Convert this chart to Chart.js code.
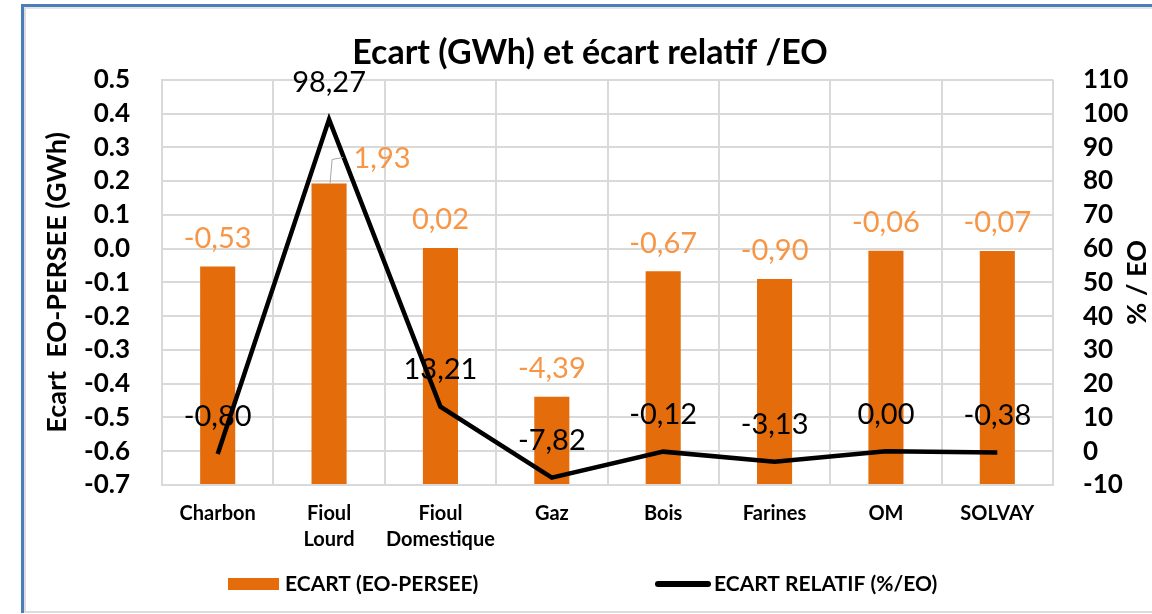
<!DOCTYPE html>
<html>
<head>
<meta charset="utf-8">
<script src="https://cdn.jsdelivr.net/npm/chart.js@4.4.1/dist/chart.umd.min.js"></script>
<style>
  html, body { margin: 0; padding: 0; background: #fff; }
  #wrap { position: relative; width: 1152px; height: 614px; overflow: hidden; }
  #frame { position: absolute; left: 21px; top: 4px; right: -10px; bottom: 1px;
    border-left: 3px solid #4a7ebb; border-top: 3px solid #4a7ebb; }
  #inner { position: absolute; left: 0; top: 0; right: 0; bottom: 0;
    border-left: 2px solid #dcdcdc; border-top: 2px solid #e4e4e4; border-bottom: 2px solid #dcdcdc; }
  canvas { position: absolute; left: 0; top: 0; }
</style>
</head>
<body>
<div id="wrap">
  <div id="frame"><div id="inner"></div></div>
  <canvas id="myChart" width="1152" height="614"></canvas>
</div>
<script>
// categories
var categories = [["Charbon"], ["Fioul", "Lourd"], ["Fioul", "Domestique"], ["Gaz"], ["Bois"], ["Farines"], ["OM"], ["SOLVAY"]];
// ecart EO-PERSEE (GWh), bar heights
var ecartGWh = [-0.053, 0.193, 0.002, -0.439, -0.067, -0.090, -0.006, -0.007];
// values printed above the bars
var ecartLabels = [-0.53, 1.93, 0.02, -4.39, -0.67, -0.90, -0.06, -0.07];
// ecart relatif (%/EO)
var ecartRelatif = [-0.80, 98.27, 13.21, -7.82, -0.12, -3.13, 0.00, -0.38];

var leftMin = -0.7, leftMax = 0.5, leftStep = 0.1;
var rightMin = -10, rightMax = 110, rightStep = 10;

var FONT = "Lato";
var orange = "#e46c0a";
var orangeLabel = "#f79646";
var gridColor = "#d9d9d9";

let fmt = (v) => v.toFixed(2).replace(".", ",");

let labelsPlugin = {
    id: "labels",
    afterDatasetsDraw: (chart) => {
        var ctx = chart.ctx;
        ctx.save();
        ctx.textAlign = "center";
        ctx.textBaseline = "middle";

        // bar labels
        ctx.font = "29px " + FONT;
        ctx.fillStyle = orangeLabel;
        chart.getDatasetMeta(0).data.forEach((bar, i) => {
            var x = bar.x;
            var y = bar.y - 28;
            if (i === 1) {
                // moved label with a leader line
                ctx.strokeStyle = "#a6a6a6";
                ctx.lineWidth = 1;
                ctx.beginPath();
                ctx.moveTo(bar.x + 1, bar.y);
                ctx.lineTo(bar.x + 3, bar.y - 24);
                ctx.lineTo(bar.x + 14, bar.y - 26);
                ctx.stroke();
                x = bar.x + 53;
                y = bar.y - 25;
            }
            ctx.fillText(fmt(ecartLabels[i]), x, y);
        });

        // line labels
        ctx.fillStyle = "#000";
        chart.getDatasetMeta(1).data.forEach((pt, i) => {
            ctx.fillText(fmt(ecartRelatif[i]), pt.x, pt.y - 37);
        });
        ctx.restore();
    },
    afterDraw: (chart) => {
        var ctx = chart.ctx;
        ctx.save();
        // right axis title, reads bottom to top
        ctx.font = "bold 27px " + FONT;
        ctx.fillStyle = "#000";
        ctx.textAlign = "center";
        ctx.textBaseline = "middle";
        ctx.translate(1137, (chart.chartArea.top + chart.chartArea.bottom) / 2);
        ctx.rotate(-Math.PI / 2);
        ctx.fillText("% / EO", 0, 0);
        ctx.restore();

        // legend
        ctx.save();
        ctx.font = "bold 21px " + FONT;
        ctx.fillStyle = orange;
        ctx.fillRect(228, 578, 51, 12);
        ctx.fillStyle = "#000";
        ctx.textBaseline = "middle";
        ctx.fillText(chart.data.datasets[0].label, 285, 584);
        ctx.strokeStyle = "#000";
        ctx.lineWidth = 6;
        ctx.lineCap = "round";
        ctx.beginPath();
        ctx.moveTo(658, 584);
        ctx.lineTo(708, 584);
        ctx.stroke();
        ctx.fillText(chart.data.datasets[1].label, 714, 584);
        ctx.restore();
    },
};

let drawChart = () => {
    var ctx = document.getElementById("myChart").getContext("2d");
    return new Chart(ctx, {
        type: "bar",
        data: {
            labels: categories,
            datasets: [
                {
                    type: "bar",
                    label: "ECART (EO-PERSEE)",
                    data: ecartGWh,
                    base: leftMin,
                    backgroundColor: orange,
                    borderWidth: 0,
                    barPercentage: 0.315,
                    categoryPercentage: 1,
                    yAxisID: "y",
                    order: 2,
                },
                {
                    type: "line",
                    label: "ECART RELATIF (%/EO)",
                    data: ecartRelatif,
                    borderColor: "#000",
                    borderWidth: 4.5,
                    pointRadius: 0,
                    tension: 0,
                    fill: false,
                    yAxisID: "y1",
                    order: 1,
                },
            ],
        },
        options: {
            responsive: false,
            animation: false,
            devicePixelRatio: 1,
            layout: { padding: { left: 28, right: 0, top: 0, bottom: 0 } },
            plugins: {
                legend: { display: false },
                tooltip: { enabled: false },
                title: {
                    display: true,
                    text: "Ecart (GWh) et écart relatif /EO",
                    color: "#000",
                    font: { family: FONT, size: 34, weight: "bold", lineHeight: 1.2 },
                    padding: { top: 33, bottom: 6 },
                },
            },
            scales: {
                x: {
                    grid: { color: gridColor, lineWidth: 2, drawTicks: false, offset: true },
                    border: { color: gridColor, width: 2 },
                    ticks: {
                        color: "#000",
                        padding: 16,
                        maxRotation: 0,
                        autoSkip: false,
                        font: { family: FONT, size: 20, weight: "bold", lineHeight: 1.3 },
                    },
                    afterFit: (scale) => { scale.height = 129; },
                },
                y: {
                    position: "left",
                    min: leftMin,
                    max: leftMax,
                    grid: { color: gridColor, lineWidth: 2, drawTicks: false },
                    border: { color: gridColor, width: 2 },
                    ticks: {
                        stepSize: leftStep,
                        autoSkip: false,
                        color: "#000",
                        padding: 32,
                        font: { family: FONT, size: 26, weight: "bold" },
                        callback: (v) => v.toFixed(1),
                    },
                    title: {
                        display: true,
                        text: "Ecart  EO-PERSEE (GWh)",
                        color: "#000",
                        font: { family: FONT, size: 27, weight: "bold" },
                        padding: { top: 13, bottom: 0 },
                    },
                    afterFit: (scale) => { scale.width = 134; },
                },
                y1: {
                    position: "right",
                    min: rightMin,
                    max: rightMax,
                    grid: { display: false, drawTicks: false },
                    border: { display: false },
                    ticks: {
                        stepSize: rightStep,
                        autoSkip: false,
                        color: "#000",
                        padding: 30,
                        font: { family: FONT, size: 26, weight: "bold" },
                    },
                    afterFit: (scale) => { scale.width = 99; },
                },
            },
        },
        plugins: [labelsPlugin],
    });
};
drawChart();
</script>
</body>
</html>
